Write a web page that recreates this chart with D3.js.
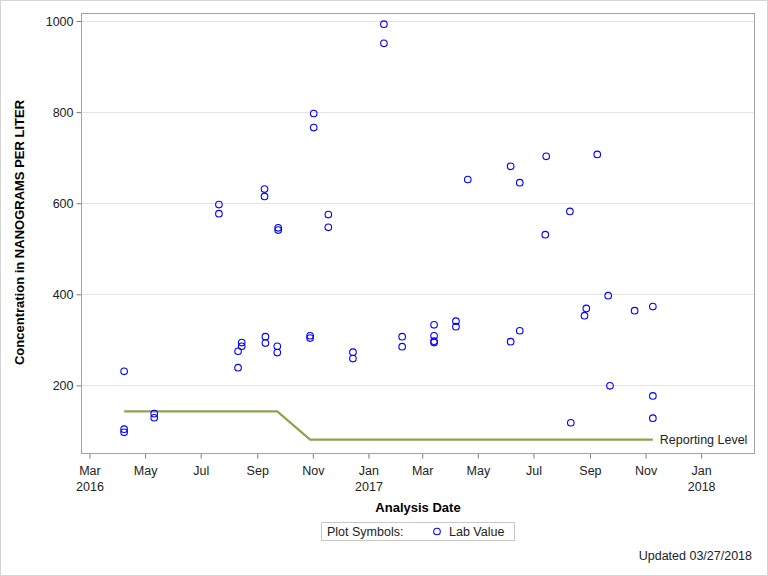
<!DOCTYPE html>
<html>
<head>
<meta charset="utf-8">
<script src="https://cdn.jsdelivr.net/npm/d3@7"></script>
<style>
  html, body { margin: 0; padding: 0; background: #fff; }
  svg { display: block; font-family: "Liberation Sans", Arial, sans-serif; }
</style>
</head>
<body>
<svg id="chart" width="768" height="576"></svg>
<script>
// ---- data ----
const sampleDates = [
  "2016-04-08","2016-04-08","2016-04-08",
  "2016-05-11","2016-05-11",
  "2016-07-21","2016-07-21",
  "2016-08-11","2016-08-11",
  "2016-08-15","2016-08-15",
  "2016-09-09","2016-09-09",
  "2016-09-10","2016-09-10",
  "2016-09-23","2016-09-23",
  "2016-09-24","2016-09-24",
  "2016-10-29","2016-10-29",
  "2016-11-02","2016-11-02",
  "2016-11-18","2016-11-18",
  "2016-12-15","2016-12-15",
  "2017-01-18","2017-01-18",
  "2017-02-07","2017-02-07",
  "2017-03-14","2017-03-14","2017-03-14","2017-03-14",
  "2017-04-07","2017-04-07",
  "2017-04-20",
  "2017-06-06","2017-06-06",
  "2017-06-16","2017-06-16",
  "2017-07-14","2017-07-15",
  "2017-08-10","2017-08-11",
  "2017-08-26","2017-08-28",
  "2017-09-09",
  "2017-09-21","2017-09-23",
  "2017-10-20",
  "2017-11-09","2017-11-09","2017-11-09"
];
const labValues = [
  231, 104, 97,
  138, 129,
  597, 577,
  275, 239,
  294, 286,
  631, 615,
  307, 293,
  286, 272,
  546, 541,
  309, 304,
  797, 766,
  575, 547,
  273, 259,
  993, 951,
  307, 285,
  333, 309, 297, 294,
  341, 329,
  652,
  681, 296,
  645, 320,
  531, 703,
  582, 118,
  353, 369,
  707,
  397, 199,
  364,
  373, 177, 128
];
const reportDates = ["2016-04-08","2016-09-23","2016-10-29","2017-11-09"];
const reportLevels = [143, 143, 81, 81];

const yTicks = [200, 400, 600, 800, 1000];
const xTickDates = ["2016-03-01","2016-05-01","2016-07-01","2016-09-01","2016-11-01","2017-01-01",
                    "2017-03-01","2017-05-01","2017-07-01","2017-09-01","2017-11-01","2018-01-01"];
const xTickLabels = [["Mar","2016"],["May"],["Jul"],["Sep"],["Nov"],["Jan","2017"],
                     ["Mar"],["May"],["Jul"],["Sep"],["Nov"],["Jan","2018"]];

const xDomain = ["2016-02-21T06:00", "2018-02-28T12:00"];
const yDomain = [50.5, 1016.5];

// ---- layout ----
const W = 768, H = 576;
const plot = { left: 81.5, right: 754.5, top: 13.5, bottom: 453.5 };
const parse = d3.isoParse;
const FS = 12.5;

const svg = d3.select("#chart");
svg.append("rect").attr("x", 0.5).attr("y", 0.5).attr("width", W - 1).attr("height", H - 1)
  .attr("fill", "#fff").attr("stroke", "#d4d4d4");

const x = d3.scaleTime().domain(xDomain.map(parse)).range([plot.left, plot.right]);
const y = d3.scaleLinear().domain(yDomain).range([plot.bottom, plot.top]);

// grid lines
svg.append("g").selectAll("line").data(yTicks).join("line")
  .attr("x1", plot.left).attr("x2", plot.right)
  .attr("y1", d => Math.round(y(d)) + 0.5).attr("y2", d => Math.round(y(d)) + 0.5)
  .attr("stroke", "#e4e4e4").attr("stroke-width", 1);

// y axis
const yAxis = svg.append("g").attr("transform", `translate(${plot.left},0)`)
  .call(d3.axisLeft(y).tickValues(yTicks).tickSize(5).tickPadding(3).tickFormat(d3.format("d")));
yAxis.select(".domain").remove();
yAxis.selectAll(".tick line").attr("stroke", "#7a7a7a");
yAxis.selectAll(".tick text").attr("font-size", FS).attr("fill", "#222")
  .attr("font-family", "'Liberation Sans', Arial, sans-serif");

// x axis
const xAxis = svg.append("g").attr("transform", `translate(0,${plot.bottom})`)
  .call(d3.axisBottom(x).tickValues(xTickDates.map(parse)).tickSize(5).tickFormat(""));
xAxis.select(".domain").remove();
xAxis.selectAll(".tick line").attr("stroke", "#7a7a7a");
xAxis.selectAll(".tick").each(function(d, i) {
  const t = d3.select(this).append("text").attr("fill", "#222").attr("font-size", FS)
    .attr("text-anchor", "middle").attr("font-family", "'Liberation Sans', Arial, sans-serif");
  xTickLabels[i].forEach((s, k) => {
    t.append("tspan").attr("x", 0).attr("y", 21.5 + k * 16).text(s);
  });
});

// frame
svg.append("rect").attr("x", plot.left).attr("y", plot.top)
  .attr("width", plot.right - plot.left).attr("height", plot.bottom - plot.top)
  .attr("fill", "none").attr("stroke", "#a3a3a3").attr("stroke-width", 1);

// reporting level line
const lineData = reportDates.map((d, i) => [parse(d), reportLevels[i]]);
svg.append("path").datum(lineData)
  .attr("d", d3.line().x(d => x(d[0])).y(d => y(d[1])))
  .attr("fill", "none").attr("stroke", "#8ba44e").attr("stroke-width", 2.2);
svg.append("text").attr("x", x(parse(reportDates[reportDates.length - 1])) + 7)
  .attr("y", y(reportLevels[reportLevels.length - 1]) + 4.5)
  .attr("font-size", FS).attr("fill", "#222").text("Reporting Level");

// points
svg.append("g").selectAll("circle").data(labValues).join("circle")
  .attr("cx", (v, i) => x(parse(sampleDates[i])))
  .attr("cy", v => y(v))
  .attr("r", 3.3)
  .attr("fill", "none").attr("stroke", "#0000ff").attr("stroke-width", 1.1);

// axis titles
svg.append("text")
  .attr("transform", `translate(24,${(plot.top + plot.bottom) / 2 - 1}) rotate(-90)`)
  .attr("text-anchor", "middle").attr("font-size", 13).attr("font-weight", "bold").attr("fill", "#000")
  .text("Concentration in NANOGRAMS PER LITER");
svg.append("text").attr("x", (plot.left + plot.right) / 2).attr("y", 512)
  .attr("text-anchor", "middle").attr("font-size", 13).attr("font-weight", "bold").attr("fill", "#000")
  .text("Analysis Date");

// legend
const lg = svg.append("g");
lg.append("rect").attr("x", 321.5).attr("y", 522.5).attr("width", 193).attr("height", 18)
  .attr("fill", "#fff").attr("stroke", "#c8c8c8");
lg.append("text").attr("x", 327).attr("y", 536).attr("font-size", FS).attr("fill", "#222").text("Plot Symbols:");
lg.append("circle").attr("cx", 437).attr("cy", 531.5).attr("r", 3.3)
  .attr("fill", "none").attr("stroke", "#0000ff").attr("stroke-width", 1.1);
lg.append("text").attr("x", 449).attr("y", 536).attr("font-size", FS).attr("fill", "#222").text("Lab Value");

// footnote
svg.append("text").attr("x", 752).attr("y", 560).attr("text-anchor", "end")
  .attr("font-size", FS).attr("fill", "#222").text("Updated 03/27/2018");
</script>
</body>
</html>
